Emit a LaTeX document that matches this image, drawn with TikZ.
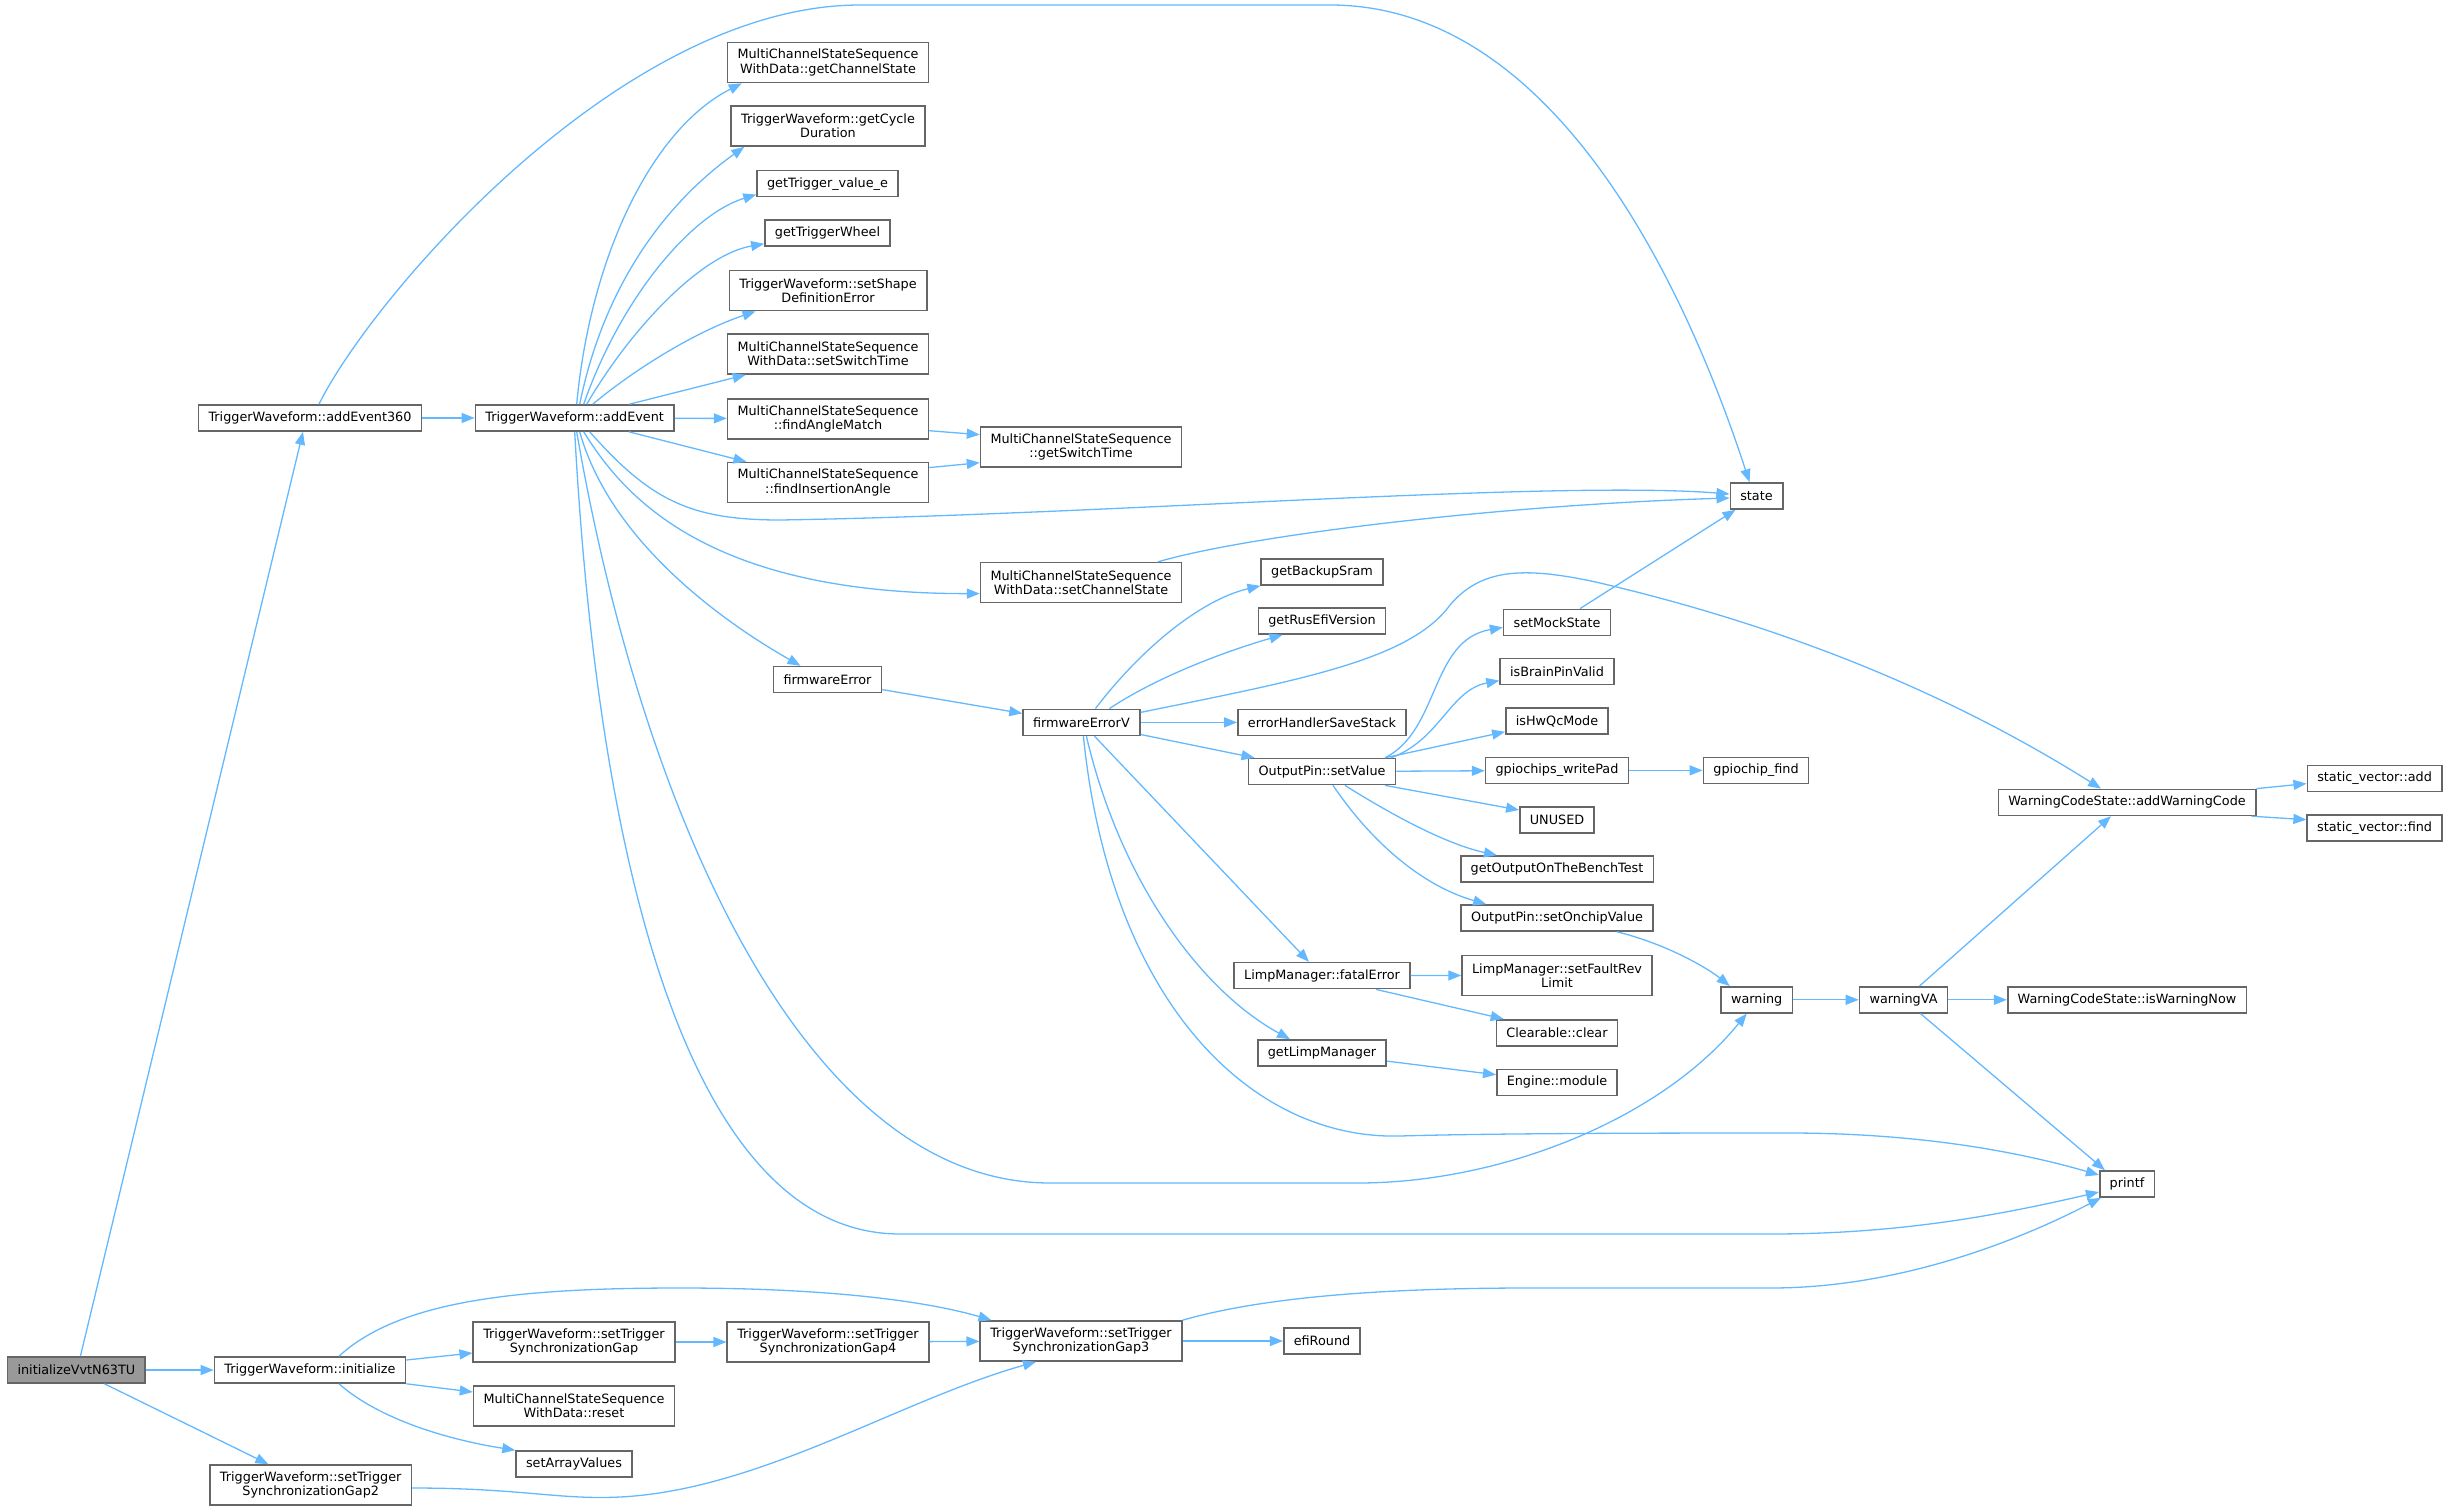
\documentclass[tikz,border=0pt]{standalone}
\usepackage{fontspec}
\setmainfont{DejaVu Sans}
\usetikzlibrary{arrows.meta}
\definecolor{edgeblue}{HTML}{63B8FF}
\definecolor{boxgray}{HTML}{666666}
\definecolor{rootgray}{HTML}{999999}
\tikzset{
  fn/.style={draw=boxgray, line width=1.6pt, fill=white, inner xsep=10pt, inner ysep=2pt,
    minimum height=26pt, align=center, font=\fontsize{12.8}{14.3}\selectfont},
  fntwo/.style={fn, minimum height=40pt},
  root/.style={fn, fill=rootgray},
  call/.style={-{Triangle[length=13pt,width=10pt]}, draw=edgeblue, line width=1.3pt}
}
\begin{document}
\begin{tikzpicture}[x=1pt,y=-1pt]
      \useasboundingbox (0,0) rectangle (2449,1511);
      \draw
        (76.4,1370) node[root] (init){initializeVvtN63TU}
        (310,418) node[fn] (addEvent360){TriggerWaveform::addEvent360}
        (574.7,418) node[fn] (addEvent){TriggerWaveform::addEvent}
        (310,1370) node[fn] (initialize){TriggerWaveform::initialize}
        (310.7,1485) node[fntwo] (gap2){TriggerWaveform::setTrigger\\SynchronizationGap2}
        (828,62.5) node[fntwo] (getChannelState){MultiChannelStateSequence\\WithData::getChannelState}
        (828,126) node[fntwo] (getCycleDuration){TriggerWaveform::getCycle\\Duration}
        (827.5,183.7) node[fn] (getTriggerValue){getTrigger\_value\_e}
        (827.5,233) node[fn] (getTriggerWheel){getTriggerWheel}
        (828,290.6) node[fntwo] (setShapeDefErr){TriggerWaveform::setShape\\DefinitionError}
        (828,354) node[fntwo] (setSwitchTime){MultiChannelStateSequence\\WithData::setSwitchTime}
        (828,418.7) node[fntwo] (findAngleMatch){MultiChannelStateSequence\\::findAngleMatch}
        (828,482.6) node[fntwo] (findInsertionAngle){MultiChannelStateSequence\\::findInsertionAngle}
        (827.5,679.6) node[fn] (firmwareError){firmwareError}
        (574,1342) node[fntwo] (gap){TriggerWaveform::setTrigger\\SynchronizationGap}
        (574,1406) node[fntwo] (reset){MultiChannelStateSequence\\WithData::reset}
        (574,1464) node[fn] (setArrayValues){setArrayValues}
        (828,1342) node[fntwo] (gap4){TriggerWaveform::setTrigger\\SynchronizationGap4}
        (1081,446.7) node[fntwo] (getSwitchTime){MultiChannelStateSequence\\::getSwitchTime}
        (1081,582.6) node[fntwo] (setChannelState){MultiChannelStateSequence\\WithData::setChannelState}
        (1081.4,722.4) node[fn] (firmwareErrorV){firmwareErrorV}
        (1081,1341) node[fntwo] (gap3){TriggerWaveform::setTrigger\\SynchronizationGap3}
        (1322,572) node[fn] (getBackupSram){getBackupSram}
        (1322,621) node[fn] (getRusEfiVersion){getRusEfiVersion}
        (1322,722.4) node[fn] (errorHandlerSaveStack){errorHandlerSaveStack}
        (1322,771.6) node[fn] (setValue){OutputPin::setValue}
        (1322,975.6) node[fn] (fatalError){LimpManager::fatalError}
        (1322,1053) node[fn] (getLimpManager){getLimpManager}
        (1322,1341) node[fn] (efiRound){efiRound}
        (1557,622.4) node[fn] (setMockState){setMockState}
        (1557,671.6) node[fn] (isBrainPinValid){isBrainPinValid}
        (1557,721) node[fn] (isHwQcMode){isHwQcMode}
        (1557,770.4) node[fn] (writePad){gpiochips\_writePad}
        (1557,820) node[fn] (UNUSED){UNUSED}
        (1557,869) node[fn] (benchTest){getOutputOnTheBenchTest}
        (1557,918) node[fn] (setOnchipValue){OutputPin::setOnchipValue}
        (1557,975.4) node[fntwo] (setFaultRevLimit){LimpManager::setFaultRev\\Limit}
        (1557,1032.8) node[fn] (clear){Clearable::clear}
        (1557,1082.3) node[fn] (module){Engine::module}
        (1756.5,496) node[fn] (state){state}
        (1756,770.4) node[fn] (gpiochipFind){gpiochip\_find}
        (1756.7,999.8) node[fn] (warning){warning}
        (1903.5,999.8) node[fn] (warningVA){warningVA}
        (2127,802.4) node[fn] (addWarningCode){WarningCodeState::addWarningCode}
        (2127,999.8) node[fn] (isWarningNow){WarningCodeState::isWarningNow}
        (2127,1184) node[fn] (printf){printf}
        (2374.6,778.6) node[fn] (svAdd){static\_vector::add}
        (2374.6,827.7) node[fn] (svFind){static\_vector::find};
      \begin{scope}[call]
        \draw ([xshift=4]init.north) to ([xshift=-7]addEvent360.south);
        \draw (init) to (initialize);
        \draw (init) to (gap2);
        \draw (addEvent360) to (addEvent);
        \draw ([xshift=9]addEvent360.north) .. controls (370,300) and (620,5) .. (860,5) -- (1330,5) .. controls (1560,5) and (1690,300) .. ([xshift=-7]state.north);
        \draw ([xshift=2]addEvent.north) .. controls (590,260) and (650,130) .. ([xshift=15]getChannelState.south west);
        \draw ([xshift=5]addEvent.north) .. controls (605,280) and (670,200) .. ([xshift=14]getCycleDuration.south west);
        \draw ([xshift=9]addEvent.north) .. controls (620,300) and (690,215) .. ([yshift=3]getTriggerValue.south west);
        \draw ([xshift=12]addEvent.north) .. controls (630,330) and (700,255) .. ([yshift=3]getTriggerWheel.south west);
        \draw ([xshift=18]addEvent.north) .. controls (640,365) and (700,330) .. ([xshift=27]setShapeDefErr.south west);
        \draw (addEvent) to (setSwitchTime);
        \draw (addEvent) to (findAngleMatch);
        \draw (addEvent) to (findInsertionAngle);
        \draw ([xshift=15]addEvent.south) .. controls (650,500) and (690,520) .. (780,520) .. controls (1100,515) and (1550,480) .. ([yshift=2]state.west);
        \draw ([xshift=9]addEvent.south) .. controls (620,490) and (700,594) .. ([yshift=-11]setChannelState.west);
        \draw ([xshift=5]addEvent.south) .. controls (610,540) and (720,620) .. ([xshift=-27]firmwareError.north);
        \draw ([xshift=2]addEvent.south) .. controls (640,800) and (800,1183) .. (1050,1183) -- (1358,1183) .. controls (1500,1183) and (1660,1120) .. ([xshift=-10]warning.south);
        \draw (addEvent.south) .. controls (600,900) and (700,1234) .. (900,1234) -- (1771,1234) .. controls (1900,1234) and (2000,1215) .. ([yshift=-8]printf.west);
        \draw ([yshift=-12]findAngleMatch.east) to ([yshift=12]getSwitchTime.west);
        \draw ([yshift=15]findInsertionAngle.east) to ([yshift=-16]getSwitchTime.west);
        \draw ([yshift=-10]firmwareError.east) to ([yshift=9]firmwareErrorV.west);
        \draw ([xshift=77]setChannelState.north) .. controls (1250,535) and (1500,505) .. ([yshift=-2]state.west);
        \draw ([xshift=14]firmwareErrorV.north) .. controls (1140,650) and (1200,600) .. (getBackupSram.south west);
        \draw ([xshift=28]firmwareErrorV.north) .. controls (1160,675) and (1230,650) .. ([xshift=25]getRusEfiVersion.south west);
        \draw ([yshift=10]firmwareErrorV.east) .. controls (1300,680) and (1410,660) .. (1450,605) .. controls (1480,570) and (1520,565) .. (1600,583) .. controls (1800,630) and (1960,700) .. ([xshift=-26]addWarningCode.north);
        \draw (firmwareErrorV) to (errorHandlerSaveStack);
        \draw (firmwareErrorV) to (setValue);
        \draw (firmwareErrorV) to (fatalError);
        \draw ([xshift=5]firmwareErrorV.south) .. controls (1120,880) and (1200,990) .. ([xshift=-32]getLimpManager.north);
        \draw ([xshift=2]firmwareErrorV.south) .. controls (1110,1000) and (1250,1140) .. (1400,1136) .. controls (1500,1133) and (1700,1133) .. (1788,1133) .. controls (1930,1133) and (2030,1155) .. ([yshift=9]printf.west);
        \draw ([xshift=63]setValue.north) .. controls (1440,730) and (1430,640) .. ([yshift=-5]setMockState.west);
        \draw ([xshift=69]setValue.north) .. controls (1440,740) and (1450,690) .. ([yshift=-9]isBrainPinValid.west);
        \draw ([xshift=63]setValue.north) to ([yshift=3]isHwQcMode.south west);
        \draw (setValue) to (writePad);
        \draw ([xshift=63]setValue.south) to ([yshift=10]UNUSED.west);
        \draw ([xshift=23]setValue.south) .. controls (1400,820) and (1450,845) .. ([xshift=37]benchTest.north west);
        \draw ([xshift=11]setValue.south) .. controls (1370,840) and (1420,885) .. ([xshift=26]setOnchipValue.north west);
        \draw (writePad) to (gpiochipFind);
        \draw ([xshift=60]setOnchipValue.south) .. controls (1670,945) and (1710,970) .. ([xshift=-27]warning.north);
        \draw (fatalError) to (setFaultRevLimit);
        \draw ([xshift=54]fatalError.south) to ([xshift=8]clear.north west);
        \draw (getLimpManager) to (module);
        \draw ([xshift=23]setMockState.north) to ([xshift=-21]state.south);
        \draw (warning) to (warningVA);
        \draw ([xshift=16]warningVA.north) to ([xshift=-16]addWarningCode.south);
        \draw (warningVA) to (isWarningNow);
        \draw ([xshift=17]warningVA.south) to ([xshift=6]printf.north west);
        \draw (addWarningCode.north east) to ([yshift=-5]svAdd.west);
        \draw ([xshift=-5]addWarningCode.south east) to ([yshift=8]svFind.west);
        \draw ([yshift=10]initialize.east) to ([yshift=-11]gap.west);
        \draw ([xshift=29]initialize.north) .. controls (400,1300) and (520,1288) .. (680,1288) .. controls (850,1288) and (940,1305) .. ([xshift=12]gap3.north west);
        \draw (initialize.south east) to ([yshift=14]reset.west);
        \draw ([xshift=29]initialize.south) .. controls (380,1420) and (450,1440) .. (setArrayValues.north west);
        \draw (gap) to (gap4);
        \draw (gap4) to (gap3);
        \draw (gap3) to (efiRound);
        \draw (gap3.north east) .. controls (1270,1295) and (1400,1288) .. (1530,1288) -- (1771,1288) .. controls (1900,1288) and (2020,1240) .. ([xshift=2]printf.south west);
        \draw ([yshift=-3]gap2.east) .. controls (520,1488) and (560,1500) .. (620,1497) .. controls (760,1490) and (900,1400) .. ([xshift=-45]gap3.south);
      \end{scope}
    \end{tikzpicture}
\end{document}
